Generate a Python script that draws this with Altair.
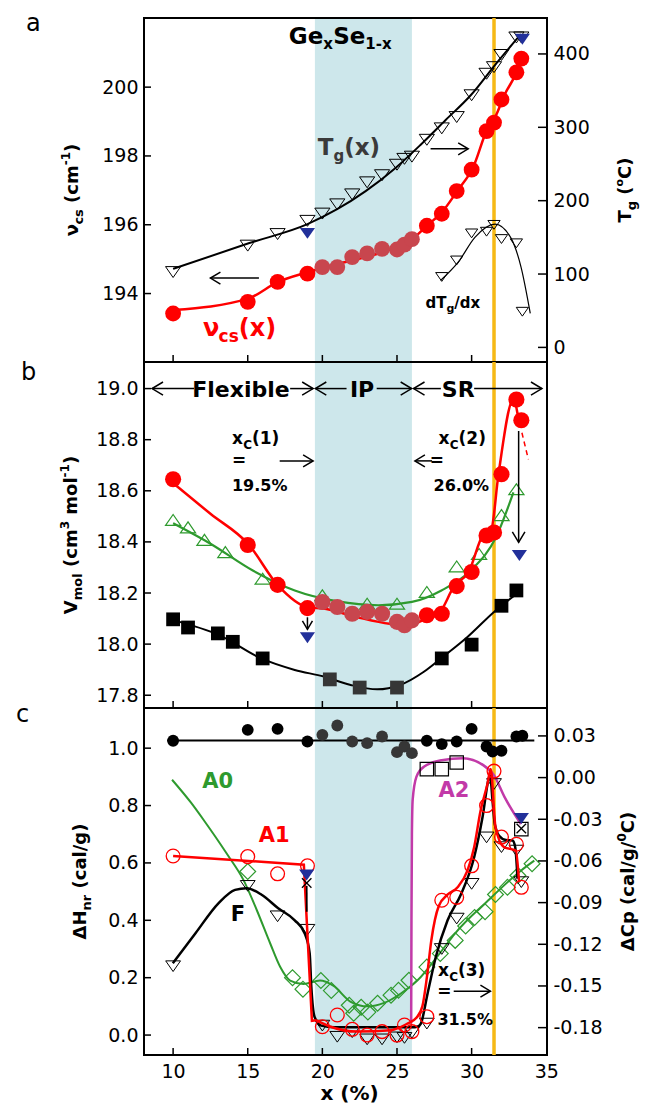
import altair as alt
import pandas as pd

FONT = "DejaVu Sans"
W = 403
HA, HB, HC = 344, 346, 347
XDOM = [8.05, 35.05]
BAND = [19.5, 26.0]
XC3 = 31.5
XTICKS = [10, 15, 20, 25, 30, 35]

BAND_COL = "#cde7eb"
YEL = "#f6b915"
RED = "#ff0000"
RED_IN = "#c8464e"
GREEN = "#2e9a2e"
MAG = "#c23aa8"
NAVY = "#22309a"
DARK = "#363636"

# ---------------- panel a ----------------
A_DOM_L = [192.01, 202.01]
A_DOM_R = [-19.9, 449.0]
A_TICKS_L = [194, 196, 198, 200]
A_TICKS_R = [0, 100, 200, 300, 400]
A_X = [10, 15, 17, 19, 20, 21, 22, 23, 24, 25, 25.5, 26, 27, 28, 29, 30, 31, 31.5, 32, 33, 33.33]
A_NU = [193.42, 193.76, 194.34, 194.58, 194.77, 194.77, 195.06, 195.17, 195.30, 195.28, 195.42,
        195.58, 195.97, 196.32, 196.98, 197.60, 198.72, 198.97, 199.64, 200.43, 200.83]
A_TG = [102.7, 138.7, 154.5, 172.5, 182.4, 195.0, 208.6, 225.0, 234.7, 249.0, 257.0,
        260.0, 283.0, 298.6, 314.0, 343.7, 373.0, 382.0, 398.6, 422.5, 422.5]
A_NU_FX = [10, 15.06, 17.02, 19.0, 20.96, 22.9, 24.9, 26.15, 27.0, 27.98, 29.1, 30.08, 31.07, 31.63, 32.19, 33.03, 33.45]
A_NU_FY = [193.52, 193.86, 194.34, 194.62, 194.86, 195.06, 195.34, 195.63, 195.97, 196.35, 197.02,
           197.65, 198.8, 199.18, 199.76, 200.43, 200.86]
A_TG_FX = [10, 15.06, 19, 20.96, 22.9, 24.9, 26.57, 28.26, 29.94, 31.63, 33.3]
A_TG_FY = [107, 141.9, 168, 188, 213, 244.6, 276, 310, 343.7, 386.5, 427]
A_BLUE_X = [19, 33.4]
A_BLUE_T = [155.4, 420]
A_DT_X = [28, 29, 30, 31, 31.5, 32, 33, 33.4]
A_DT = [96, 118.5, 155.4, 157.7, 167, 147.7, 141.9, 48.6]
A_DT_FX = [27.92, 29.1, 30.22, 31.57, 32.61, 33.31, 33.93]
A_DT_FY = [91.4, 116.2, 150, 168, 150, 109.5, 46.4]

# ---------------- panel b ----------------
B_DOM = [17.75, 19.104]
B_TICKS = [17.8, 18.0, 18.2, 18.4, 18.6, 18.8, 19.0]
B_RX = [10, 15, 17, 19, 20, 21, 22, 23, 24, 25, 25.5, 26, 27, 28, 29, 30, 31, 31.5, 32, 33, 33.33]
B_RV = [18.645, 18.388, 18.232, 18.141, 18.165, 18.145, 18.119, 18.126, 18.119, 18.087, 18.074,
        18.093, 18.113, 18.119, 18.227, 18.282, 18.425, 18.437, 18.665, 18.957, 18.876]
B_R_FX = [10, 12.5, 15.06, 17.02, 19.0, 20.1, 22.3, 24.5, 25.8, 26.8, 27.8, 28.84, 29.8, 30.8, 31.3, 31.8, 32.8, 33.15]
B_R_FY = [18.63, 18.51, 18.39, 18.23, 18.145, 18.139, 18.106, 18.08, 18.076, 18.095, 18.12,
          18.227, 18.282, 18.43, 18.445, 18.665, 18.957, 18.876]
B_GX = [10, 11, 12.1, 13.5, 16, 20, 23, 25, 27, 29, 30.5, 32, 33]
B_GV = [18.486, 18.457, 18.408, 18.36, 18.256, 18.191, 18.158, 18.158, 18.204, 18.304, 18.353, 18.505, 18.606]
B_G_FX = [10, 12.53, 15.34, 18.15, 20.96, 23.76, 26.0, 27.98, 29.94, 31.63, 32.8]
B_G_FY = [18.473, 18.392, 18.288, 18.21, 18.168, 18.152, 18.165, 18.21, 18.288, 18.418, 18.594]
B_KX = [10, 11, 13, 14, 16, 20.5, 22.5, 25, 28, 30, 32, 33]
B_KV = [18.097, 18.065, 18.042, 18.009, 17.944, 17.862, 17.83, 17.83, 17.944, 17.998, 18.15, 18.21]
B_K_FX = [10, 13.09, 15.9, 18.15, 20.1, 21.9, 23.67, 25.2, 26.8, 27.94, 29.72, 31.5, 33.03]
B_K_FY = [18.094, 18.035, 17.944, 17.899, 17.873, 17.84, 17.823, 17.84, 17.892, 17.944, 18.028, 18.126, 18.197]
B_BLUE_X = [19, 33.2]
B_BLUE_V = [18.025, 18.347]

# ---------------- panel c ----------------
C_DOM_L = [-0.0695, 1.14]
C_DOM_R = [-0.1997, 0.0501]
C_TICKS_L = [0.0, 0.2, 0.4, 0.6, 0.8, 1.0]
C_TICKS_R = [0.03, 0.0, -0.03, -0.06, -0.09, -0.12, -0.15, -0.18]
C_KX = [10, 15, 17, 19, 20, 21, 22, 23, 24, 25, 25.5, 26, 27, 28, 29, 30, 31, 31.4, 32, 33, 33.4]
C_KCP = [0.0265, 0.0344, 0.0351, 0.026, 0.0308, 0.0375, 0.026, 0.0248, 0.0296, 0.0183, 0.0224,
         0.0176, 0.0265, 0.0241, 0.026, 0.0351, 0.0224, 0.0188, 0.0193, 0.0296, 0.0301]
C_CP_LX = [9.6, 34.2]
C_CP_LY = [0.0267, 0.0267]
C_PX = [10, 15, 17, 19, 20, 21, 22, 23, 24, 25, 25.5, 26, 27, 28, 29, 30, 31, 31.5, 32, 33, 33.33]
C_A1 = [0.624, 0.622, 0.562, 0.59, 0.029, 0.07, 0.02, 0.0, 0.012, 0.0, 0.035, 0.012, 0.064,
        0.47, 0.48, 0.59, 0.80, 0.92, 0.69, 0.665, 0.515]
C_F = [0.24, 0.52, 0.414, 0.367, 0.033, -0.006, 0.01, -0.015, -0.015, -0.008, -0.01, 0.008, 0.04,
       0.30, 0.406, 0.527, 0.689, 0.875, 0.655, 0.643, 0.533]
C_DX = [15, 18, 18.7, 19.9, 20.6, 21.8, 22.1, 22.6, 23.05, 23.7, 24.6, 25.1, 25.8,
        27.0, 27.9, 28.9, 29.6, 30.2, 30.9, 31.6, 32.4, 33.1, 34.05]
C_D = [0.57, 0.2, 0.16, 0.19, 0.155, 0.104, 0.076, 0.097, 0.08, 0.111, 0.139, 0.156, 0.191,
       0.237, 0.284, 0.33, 0.38, 0.41, 0.43, 0.49, 0.515, 0.556, 0.597]
C_SQX = [27, 28, 29, 33.33]
C_SQ = [0.927, 0.927, 0.95, 0.718]
C_BLUE_X = [18.95, 33.33]
C_BLUE = [0.558, 0.755]
C_XM_X = [18.95, 33.33]
C_XM = [0.53, 0.72]
C_F_FX = [9.98, 11.5, 13.05, 14.15, 14.93, 15.93, 17.04, 18.15, 18.82, 19.15, 19.26, 19.48, 19.92, 20.8,
          23.0, 26.0, 26.4, 26.6, 27.05, 27.6, 28.39, 29.28, 30.17, 30.73, 31.17, 31.24, 31.4, 31.55,
          31.84, 32.3, 32.74, 32.92, 33.03, 33.07]
C_F_FY = [0.25, 0.355, 0.46, 0.506, 0.512, 0.489, 0.442, 0.4, 0.354, 0.285, 0.168, 0.063, 0.033, 0.027,
          0.027, 0.027, 0.03, 0.04, 0.145, 0.272, 0.4, 0.49, 0.62, 0.759, 0.898, 0.904, 0.817, 0.736,
          0.695, 0.68, 0.678, 0.655, 0.585, 0.545]
C_A1L_X = [10, 18.76, 19.3, 19.57]
C_A1L_Y = [0.624, 0.594, 0.05, 0.052]
C_A1R_X = [19.57, 20.5, 22.36, 24.6, 25.7, 26.3, 26.7, 27.0, 27.3, 27.8, 28.4, 29.06, 29.72, 30.17,
           30.6, 31.06, 31.28, 31.6, 32.17, 32.96, 33.18]
C_A1R_Y = [0.052, 0.03, 0.012, 0.017, 0.04, 0.06, 0.1, 0.2, 0.33, 0.45, 0.49, 0.515, 0.573, 0.655,
           0.782, 0.875, 0.927, 0.724, 0.655, 0.643, 0.533]
C_A0_X = [9.93, 11.2, 12.07, 13.6, 14.72, 15.61, 16.5, 17.17, 17.84, 18.73, 19.84, 20.73, 21.9, 23.03,
          24.14, 25.26, 26.38, 27.94, 28.87, 31.1, 33.3, 34.2]
C_A0_Y = [0.89, 0.81, 0.748, 0.632, 0.54, 0.435, 0.32, 0.238, 0.19, 0.178, 0.19, 0.172, 0.116, 0.1,
          0.112, 0.145, 0.191, 0.29, 0.353, 0.469, 0.573, 0.608]
C_A2_X = [25.95, 25.97, 26.0, 26.05, 26.3, 26.8, 28.0, 29.4, 30.8, 31.5, 32.2, 33.3]
C_A2_Y = [0.04, 0.4, 0.7, 0.82, 0.9, 0.935, 0.958, 0.965, 0.94, 0.905, 0.83, 0.735]

# ---------------- helpers ----------------
CW = {' ': 0.348, '(': 0.457, ')': 0.457, '-': 0.415, '/': 0.365, '.': 0.380, '%': 1.002, '=': 0.838,
      'A': 0.774, 'C': 0.734, 'F': 0.683, 'G': 0.821, 'H': 0.837, 'I': 0.372, 'P': 0.733, 'R': 0.770,
      'S': 0.720, 'T': 0.682, 'V': 0.774, 'a': 0.675, 'b': 0.716, 'c': 0.593, 'd': 0.716, 'e': 0.678,
      'g': 0.716, 'i': 0.343, 'l': 0.343, 'm': 1.042, 'n': 0.712, 'o': 0.687, 'p': 0.716, 'r': 0.493,
      's': 0.595, 'x': 0.663, 'Δ': 0.774, 'ν': 0.652}
for _d in "0123456789":
    CW[_d] = 0.696

TRI_DOWN = "M-1,-0.72L1,-0.72L0,0.72Z"
TRI_UP = "M-1,0.72L1,0.72L0,-0.72Z"
CHEV = "M-2,-1.2L0,0L-2,1.2"
XMARK = "M-1,-1L1,1M-1,1L1,-1"


def tw(s, size):
    return sum(CW.get(c, 0.62) for c in s) * size


def xenc(axis):
    return alt.X("x:Q", scale=alt.Scale(domain=XDOM, nice=False, zero=False), axis=axis)


def yaxis(vals, fmt=None, orient="left", expr=None):
    kw = dict(values=vals, title=None, ticks=False, domain=False, grid=False, orient=orient,
              labelFont=FONT, labelFontSize=19, labelColor="black", labelPadding=6, labelOverlap=False)
    if fmt:
        kw["format"] = fmt
    if expr:
        kw["labelExpr"] = expr
    return alt.Axis(**kw)


def yenc(dom, axis):
    return alt.Y("y:Q", scale=alt.Scale(domain=dom, nice=False, zero=False), axis=axis)


def line(X, Y, xs, ys, color, width=2.0, interp="monotone", dash=None):
    mk = dict(color=color, strokeWidth=width, interpolate=interp)
    if dash:
        mk["strokeDash"] = dash
    return alt.Chart(pd.DataFrame({"x": xs, "y": ys})).mark_line(**mk).encode(x=X, y=Y)


def pts(X, Y, xs, ys, shape, size, color="black", filled=False, sw=1.2, colors=None):
    d = pd.DataFrame({"x": xs, "y": ys})
    mk = dict(shape=shape, size=size, filled=filled, strokeWidth=sw, opacity=1)
    if colors is None:
        mk["color"] = color
        return alt.Chart(d).mark_point(**mk).encode(x=X, y=Y)
    d["c"] = colors
    return alt.Chart(d).mark_point(**mk).encode(x=X, y=Y, color=alt.Color("c:N", scale=None))


def arrow(X, Y, x1, y1, x2, y2, color="black", sw=1.5, head=100):
    d = pd.DataFrame({"x": [x1], "y": [y1], "x2": [x2], "y2": [y2]})
    shaft = alt.Chart(d).mark_rule(color=color, strokeWidth=sw).encode(x=X, y=Y, x2="x2:Q", y2="y2:Q")
    if y1 == y2:
        ang = 0 if x2 > x1 else 180
    else:
        ang = 90 if y2 < y1 else 270
    tip = alt.Chart(pd.DataFrame({"x": [x2], "y": [y2]})).mark_point(
        shape=CHEV, size=head, filled=False, strokeWidth=sw, color=color, angle=ang, opacity=1
    ).encode(x=X, y=Y)
    return [shaft, tip]


def rich(X, Y, x, y, segs, color="black", angle=0, center=False):
    total = sum(tw(t, s) for t, s, _ in segs)
    cum = -total / 2 if center else 0
    out = []
    d = pd.DataFrame({"x": [x], "y": [y]})
    for t, s, dy in segs:
        lead = len(t) - len(t.lstrip(" "))
        cum += lead * CW[" "] * s
        body = t.strip(" ")
        out.append(alt.Chart(d).mark_text(
            text=body, font=FONT, fontSize=s, fontWeight="bold", color=color, align="left",
            baseline="alphabetic", dx=cum, dy=dy, angle=angle).encode(x=X, y=Y))
        cum += tw(t, s) - lead * CW[" "] * s
    return out


def txt(X, Y, x, y, s, size, color="black", align="left", baseline="alphabetic", weight="bold"):
    d = pd.DataFrame({"x": [x], "y": [y]})
    return alt.Chart(d).mark_text(text=s, font=FONT, fontSize=size, fontWeight=weight, color=color,
                                  align=align, baseline=baseline).encode(x=X, y=Y)


def band(X, h):
    d = pd.DataFrame({"x": [BAND[0]], "x2": [BAND[1]]})
    return alt.Chart(d).mark_rect(color=BAND_COL, opacity=1).encode(
        x=X, x2="x2:Q", y=alt.value(1), y2=alt.value(h - 1))


def yline(X, h):
    return alt.Chart(pd.DataFrame({"x": [XC3]})).mark_rule(color=YEL, strokeWidth=3.5).encode(
        x=X, y=alt.value(0), y2=alt.value(h))


def xticks(X, h):
    return alt.Chart(pd.DataFrame({"x": XTICKS[:-1]})).mark_rule(color="black", strokeWidth=1.5).encode(
        x=X, y=alt.value(h - 7), y2=alt.value(h))


def lticks(Y, vals):
    return alt.Chart(pd.DataFrame({"y": vals})).mark_rule(color="black", strokeWidth=1.5).encode(
        y=Y, x=alt.value(0), x2=alt.value(7))


def rticks(Y, vals):
    return alt.Chart(pd.DataFrame({"y": vals})).mark_rule(color="black", strokeWidth=1.5).encode(
        y=Y, x=alt.value(W - 9), x2=alt.value(W))


def incol(xs, base, inner):
    return [inner if 19.5 < v <= 26.0 else base for v in xs]


PX = alt.value
NOAX = None

# ================= panel a =================
XA = xenc(NOAX)
YAL = yenc(A_DOM_L, yaxis(A_TICKS_L, "d"))
YAR = yenc(A_DOM_R, yaxis(A_TICKS_R, "d", orient="right"))

La = [band(XA, HA), yline(XA, HA), xticks(XA, HA), lticks(YAL, A_TICKS_L),
      line(XA, YAL, A_NU_FX, A_NU_FY, RED, 2.5),
      pts(XA, YAL, A_X, A_NU, "circle", 250, filled=True, colors=incol(A_X, RED, RED_IN))]
La += rich(XA, YAL, 17.75, 201.26, [("Ge", 23, 0), ("x", 15, 5), ("Se", 23, 0), ("1-x", 15, 5)])
La += rich(XA, YAL, 19.69, 198.03, [("T", 23, 0), ("g", 15, 6), ("(x)", 23, 0)], color="#3a3a3a")
La += rich(XA, YAL, 12.0, 192.76, [("ν", 24, 0), ("cs", 17, 6), ("(x)", 24, 0)], color=RED)
La += rich(XA, YAL, 26.91, 193.57, [("dT", 15, 0), ("g", 11, 4), ("/dx", 15, 0)])
La += arrow(XA, YAL, 15.75, 194.45, 12.5, 194.45)
La.append(txt(PX(-118), PX(13), 0, 0, "a", 24, weight="normal"))
La += rich(PX(-66), PX(HA / 2), 0, 0,
           [("ν", 18, 0), ("cs", 13, 5), (" (cm", 18, 0), ("-1", 12, -8), (")", 18, 0)],
           angle=270, center=True)

Ra = [rticks(YAR, A_TICKS_R),
      line(XA, YAR, A_TG_FX, A_TG_FY, "black", 2),
      pts(XA, YAR, A_X, A_TG, TRI_DOWN, 230, "black", False, sw=1),
      pts(XA, YAR, A_BLUE_X, A_BLUE_T, TRI_DOWN, 230, NAVY, True, sw=1),
      line(XA, YAR, A_DT_FX, A_DT_FY, "black", 1.2),
      pts(XA, YAR, A_DT_X, A_DT, TRI_DOWN, 150, "black", False, sw=1)]
Ra += arrow(XA, YAR, 27.25, 270.7, 29.77, 270.7)
Ra += rich(PX(487), PX(HA / 2), 0, 0,
           [("T", 18, 0), ("g", 13, 5), (" (", 18, 0), ("o", 11, -8), ("C)", 18, 0)],
           angle=270, center=True)

pa = alt.layer(alt.layer(*La), alt.layer(*Ra)).resolve_scale(y="independent").properties(width=W, height=HA)

# ================= panel b =================
XB = xenc(NOAX)
YB = yenc(B_DOM, yaxis(B_TICKS, ".1f"))

Lb = [band(XB, HB), yline(XB, HB), xticks(XB, HB), lticks(YB, B_TICKS),
      line(XB, YB, B_K_FX, B_K_FY, "black", 2),
      pts(XB, YB, B_KX, B_KV, "square", 190, filled=True, colors=incol(B_KX, "black", DARK)),
      line(XB, YB, B_G_FX, B_G_FY, GREEN, 2.2),
      pts(XB, YB, B_GX, B_GV, TRI_UP, 230, GREEN, False, sw=1.2),
      line(XB, YB, B_R_FX, B_R_FY, RED, 2.5),
      pts(XB, YB, B_RX, B_RV, "circle", 260, filled=True, colors=incol(B_RX, RED, RED_IN)),
      line(XB, YB, [33.37, 33.8], [18.827, 18.723], RED, 1.5, interp="linear", dash=[5, 4]),
      pts(XB, YB, B_BLUE_X, B_BLUE_V, TRI_DOWN, 230, NAVY, True, sw=1)]
Lb += arrow(XB, YB, 33.15, 18.834, 33.15, 18.398, sw=1.5, head=110)
Lb += arrow(XB, YB, 19.0, 18.105, 19.0, 18.058, sw=1.5, head=70)
Lb.append(txt(XB, YB, 14.55, 18.996, "Flexible", 22, align="center", baseline="middle"))
Lb.append(txt(XB, YB, 22.66, 18.996, "IP", 22, align="center", baseline="middle"))
Lb.append(txt(XB, YB, 29.1, 18.996, "SR", 22, align="center", baseline="middle"))
for (a1, a2) in [(11.4, 8.59), (17.84, 19.38), (21.62, 19.53), (23.64, 25.98), (27.94, 26.11), (30.17, 34.71)]:
    Lb += arrow(XB, YB, a1, 19.0, a2, 19.0, sw=1.5, head=120)
Lb += rich(XB, YB, 13.94, 18.785, [("x", 17, 0), ("C", 12, 5), ("(1)", 17, 0)])
Lb.append(txt(XB, YB, 13.94, 18.717, "=", 17, baseline="middle"))
Lb.append(txt(XB, YB, 13.94, 18.60, "19.5%", 16))
Lb += arrow(XB, YB, 17.14, 18.717, 19.38, 18.717)
Lb += rich(XB, YB, 27.78, 18.785, [("x", 17, 0), ("C", 12, 5), ("(2)", 17, 0)])
Lb += arrow(XB, YB, 27.35, 18.717, 26.2, 18.717)
Lb.append(txt(XB, YB, 27.2, 18.717, "=", 17, baseline="middle"))
Lb.append(txt(XB, YB, 27.45, 18.60, "26.0%", 16))
Lb.append(txt(PX(-123), PX(18), 0, 0, "b", 24, weight="normal"))
Lb += rich(PX(-67), PX(HB / 2), 0, 0,
           [("V", 18, 0), ("mol", 13, 5), (" (cm", 18, 0), ("3", 12, -8), (" mol", 18, 0),
            ("-1", 12, -8), (")", 18, 0)], angle=270, center=True)

pb = alt.layer(*Lb).properties(width=W, height=HB)

# ================= panel c =================
XAXC = alt.Axis(values=XTICKS, format="d", title=None, ticks=False, domain=False, grid=False,
                labelFont=FONT, labelFontSize=19, labelColor="black", labelPadding=7,
                labelFlush=False, labelOverlap=False)
XC = xenc(XAXC)
YCL = yenc(C_DOM_L, yaxis(C_TICKS_L, ".1f"))
YCR = yenc(C_DOM_R, yaxis(C_TICKS_R, orient="right",
                          expr="(datum.value < -0.0001 ? '-' : '') + format(abs(datum.value), '.2f')"))

Lc = [band(XC, HC), yline(XC, HC), xticks(XC, HC), lticks(YCL, C_TICKS_L),
      line(XC, YCL, C_A0_X, C_A0_Y, GREEN, 2),
      pts(XC, YCL, C_DX, C_D, "diamond", 250, GREEN, False, sw=1.2),
      line(XC, YCL, C_A2_X, C_A2_Y, MAG, 2.5),
      pts(XC, YCL, C_SQX, C_SQ, "square", 180, "black", False, sw=1.2),
      line(XC, YCL, C_F_FX, C_F_FY, "black", 2.5),
      pts(XC, YCL, C_PX, C_F, TRI_DOWN, 220, "black", False, sw=1),
      line(XC, YCL, C_A1L_X, C_A1L_Y, RED, 2.5, interp="linear"),
      line(XC, YCL, C_A1R_X, C_A1R_Y, RED, 2.5),
      pts(XC, YCL, C_PX, C_A1, "circle", 190, RED, False, sw=1.3),
      pts(XC, YCL, C_BLUE_X, C_BLUE, TRI_DOWN, 230, NAVY, True, sw=1),
      pts(XC, YCL, C_XM_X, C_XM, XMARK, 90, "black", False, sw=1.3),
      line(XC, YCL, [18.95, 18.951], [0.52, 0.43], "black", 1.8, interp="linear")]
Lc.append(txt(XC, YCL, 11.95, 0.862, "A0", 21, color=GREEN))
Lc.append(txt(XC, YCL, 15.74, 0.674, "A1", 21, color=RED))
Lc.append(txt(XC, YCL, 27.78, 0.831, "A2", 21, color=MAG))
Lc.append(txt(XC, YCL, 13.86, 0.396, "F", 21))
Lc += rich(XC, YCL, 27.74, 0.205, [("x", 17, 0), ("C", 12, 5), ("(3)", 17, 0)])
Lc.append(txt(XC, YCL, 27.7, 0.15, "=", 17, baseline="middle"))
Lc += arrow(XC, YCL, 28.8, 0.153, 31.26, 0.153)
Lc.append(txt(XC, YCL, 27.71, 0.035, "31.5%", 16))
Lc.append(txt(PX(-128), PX(14), 0, 0, "c", 24, weight="normal"))
Lc += rich(PX(-58), PX(HC / 2), 0, 0,
           [("ΔH", 18, 0), ("nr", 13, 5), (" (cal/g)", 18, 0)], angle=270, center=True)
Lc.append(txt(PX(W / 2 + 4), PX(HC + 45), 0, 0, "x (%)", 20, align="center"))

Rc = [rticks(YCR, C_TICKS_R),
      line(XC, YCR, C_CP_LX, C_CP_LY, "black", 2, interp="linear"),
      pts(XC, YCR, C_KX, C_KCP, "circle", 140, filled=True, colors=incol(C_KX, "black", DARK))]
Rc += rich(PX(490), PX(HC / 2), 0, 0,
           [("ΔCp (cal/g/", 18, 0), ("0", 12, -8), ("C)", 18, 0)], angle=270, center=True)

pc = alt.layer(alt.layer(*Lc), alt.layer(*Rc)).resolve_scale(y="independent").properties(width=W, height=HC)

chart = alt.vconcat(pa, pb, pc, spacing=0, bounds="flush").resolve_scale(
    x="independent", y="independent"
).properties(
    padding={"left": 7, "top": 3, "right": 2, "bottom": 0}
).configure_view(stroke="black", strokeWidth=2)

chart.save("out.html", embed_options={"renderer": "svg", "actions": False})
